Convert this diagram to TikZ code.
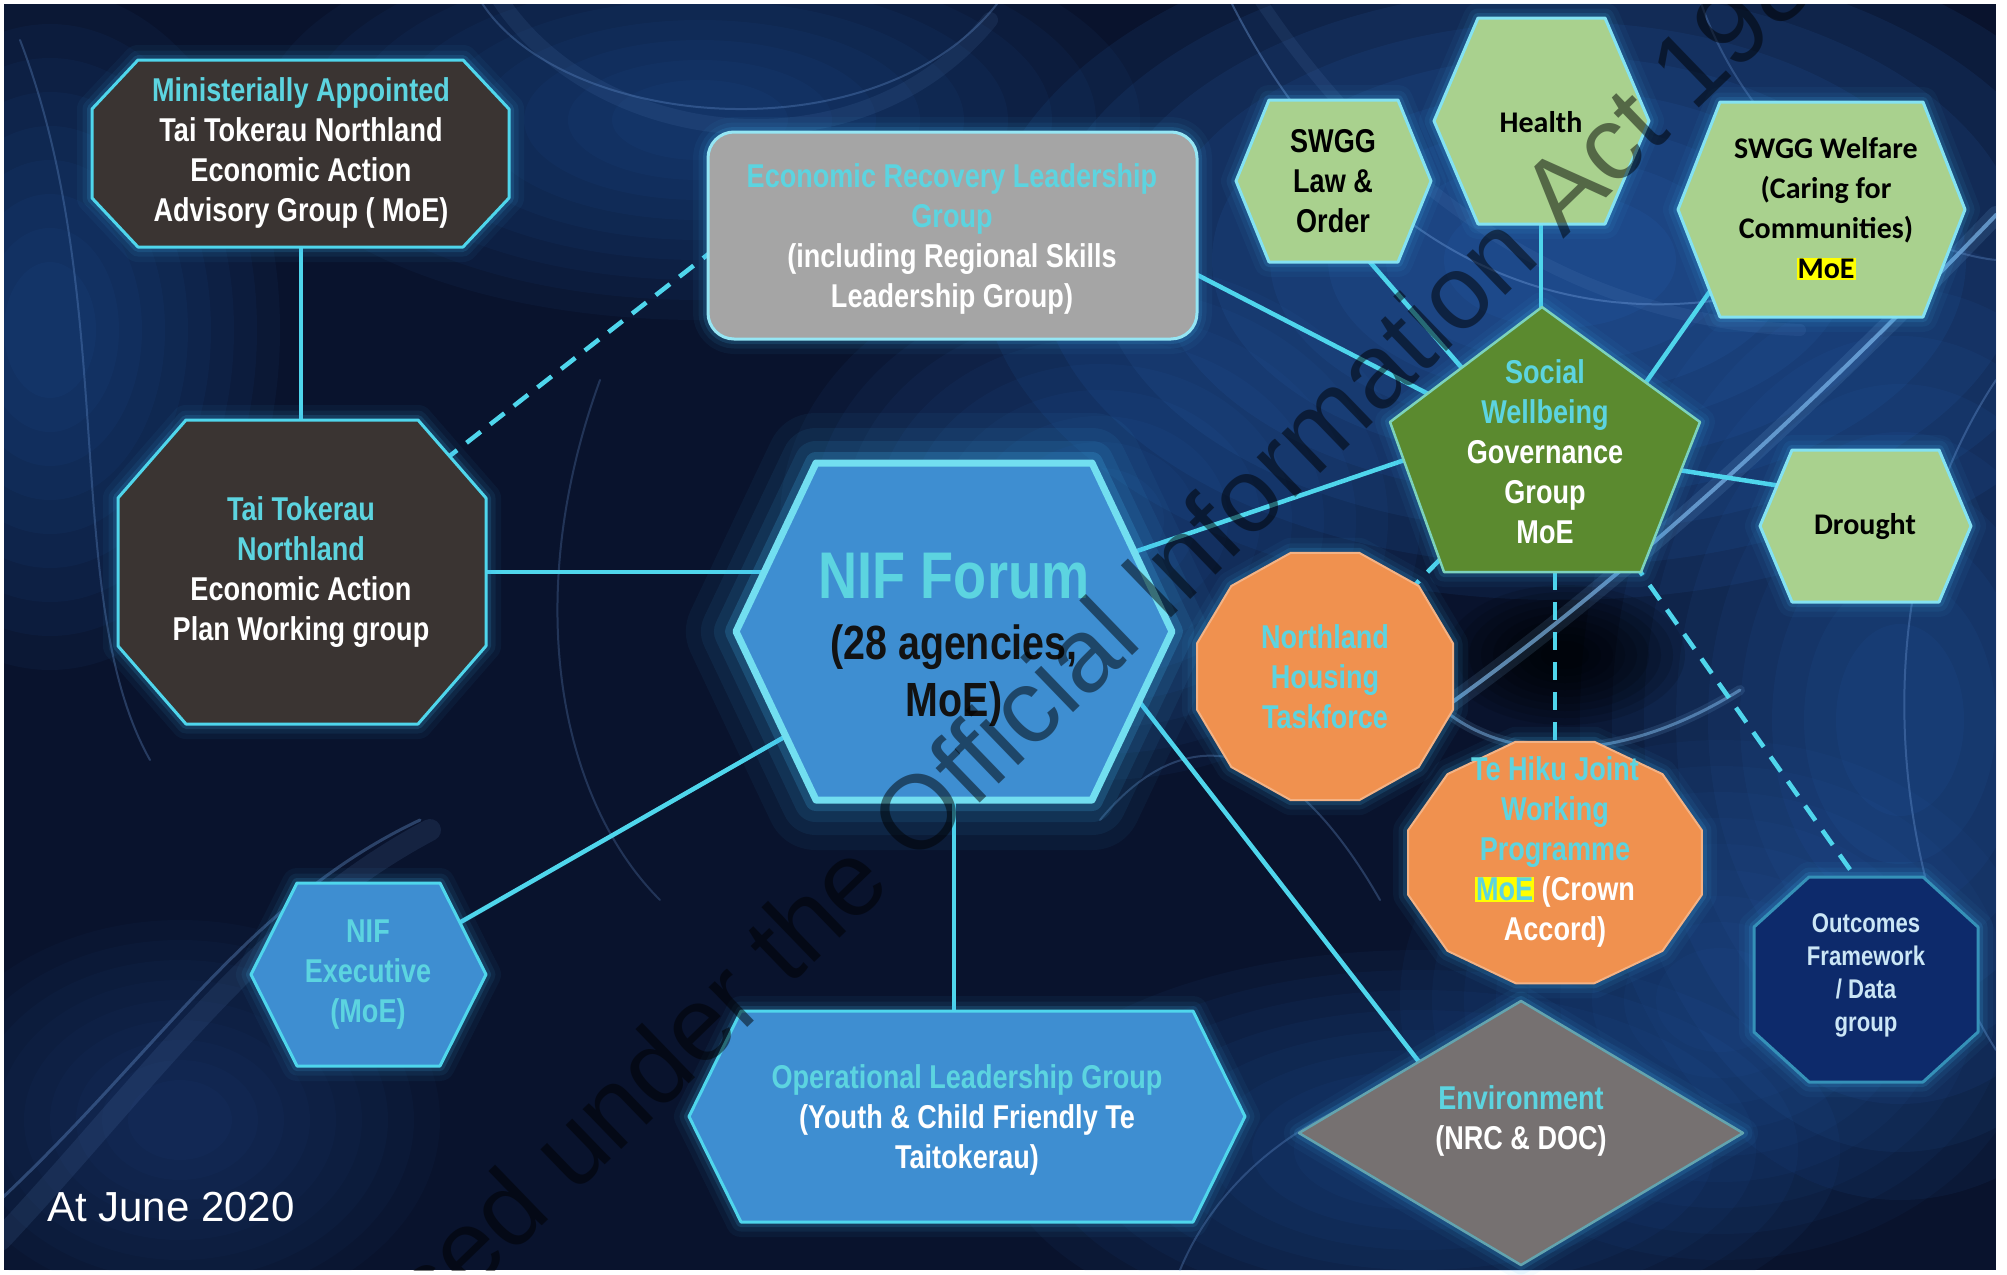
\documentclass[tikz,border=0pt]{standalone}
\usepackage{fontspec}
\setmainfont{Liberation Sans}
\newfontfamily\cond{Liberation Sans}[FakeStretch=0.82]
\newfontfamily\calib{Carlito}
\usetikzlibrary{calc}
\definecolor{bgbase}{HTML}{09132D}
\definecolor{cyanline}{HTML}{4FD6EC}
\definecolor{glowc}{HTML}{3FB6F2}
\definecolor{cyantext}{HTML}{5CD4E0}
\definecolor{darkbox}{HTML}{3A3432}
\definecolor{greybox}{HTML}{A5A5A5}
\definecolor{bluebox}{HTML}{3E8ED1}
\definecolor{greenbox}{HTML}{5B8A2F}
\definecolor{lgreen}{HTML}{A9D18E}
\definecolor{orangebox}{HTML}{F0914F}
\definecolor{envbox}{HTML}{767171}
\definecolor{navybox}{HTML}{0D2A6B}
\definecolor{hly}{HTML}{FFFF00}
\definecolor{outtext}{HTML}{CBE6F6}
\definecolor{smokeblue}{HTML}{2F6FC8}
\definecolor{smokelight}{HTML}{8CCBFF}
\pgfdeclarelayer{back}\pgfdeclarelayer{lines}\pgfsetlayers{back,lines,main}
\newcommand\hl[1]{{\setlength{\fboxsep}{1pt}\colorbox{hly}{#1}}}
\newcommand\cy[1]{\textcolor{cyantext}{#1}}
\newcommand\blob[6]{\foreach \bs in {1,0.9,0.8,0.7,0.6,0.5,0.4,0.3,0.2}{\fill[#5, opacity=#6] (#1,#2) ellipse ({#3*\bs} and {#4*\bs});}}
\newcommand\glowbox[2]{%
  \path[draw=glowc, line join=round, line width=30pt, opacity=0.05, #1];
  \path[draw=glowc, line join=round, line width=19pt, opacity=0.08, #1];
  \path[draw=glowc, line join=round, line width=10pt, opacity=0.15, #1];
  \path[line join=round, #2, #1];}
\newcommand\bigglow[2]{%
  \path[draw=glowc, line join=round, line width=100pt, opacity=0.05, #1];
  \path[draw=glowc, line join=round, line width=70pt, opacity=0.07, #1];
  \path[draw=glowc, line join=round, line width=44pt, opacity=0.10, #1];
  \path[draw=glowc, line join=round, line width=22pt, opacity=0.2, #1];
  \path[line join=round, #2, #1];}
\tikzset{
  hexp/.style n args={5}{insert path={({#1-#3},{#2}) -- ({#1-#3+#5},{#2-#4}) -- ({#1+#3-#5},{#2-#4}) -- ({#1+#3},{#2}) -- ({#1+#3-#5},{#2+#4}) -- ({#1-#3+#5},{#2+#4}) -- cycle}},
  octp/.style n args={6}{insert path={({#1-#3+#5},{#2-#4}) -- ({#1+#3-#5},{#2-#4}) -- ({#1+#3},{#2-#4+#6}) -- ({#1+#3},{#2+#4-#6}) -- ({#1+#3-#5},{#2+#4}) -- ({#1-#3+#5},{#2+#4}) -- ({#1-#3},{#2+#4-#6}) -- ({#1-#3},{#2-#4+#6}) -- cycle}},
  dodp/.style n args={4}{insert path={plot[samples at={15,45,...,345}, variable=\t] ({#1+#3*cos(\t)},{#2+#4*sin(\t)}) -- cycle}},
  pentp/.style={insert path={(1542,307) -- (1700,422) -- (1641,572) -- (1444,572) -- (1390,422) -- cycle}},
  diamp/.style={insert path={(1299,1133) -- (1521,1001) -- (1743,1133) -- (1521,1265) -- cycle}},
  darkst/.style={fill=darkbox, draw=cyanline, line width=3pt},
  greyst/.style={fill=greybox, draw=cyanline!60!white, line width=3pt},
  bluest/.style={fill=bluebox, draw=cyanline, line width=3pt},
  nifst/.style={fill=bluebox, draw=cyanline!80!white, line width=7pt},
  lgst/.style={fill=lgreen, draw=cyanline!70!white, line width=3pt},
  pentst/.style={fill=greenbox, draw=cyanline!50!lgreen, line width=2.5pt},
  orst/.style={fill=orangebox, draw=orangebox!70!white, line width=2pt},
  envst/.style={fill=envbox, draw=cyanline!50!envbox, line width=2.5pt},
  navst/.style={fill=navybox, draw=cyanline!60!navybox, line width=3pt},
  txt/.style={align=center, inner sep=0pt, text=white, font=\cond\bfseries\fontsize{33}{40}\selectfont},
  ctxt/.style={align=center, inner sep=0pt, text=black, font=\calib\bfseries\fontsize{30}{40}\selectfont},
  conn/.style={draw=cyanline, line width=4.5pt},
  dconn/.style={draw=cyanline, line width=4.5pt, dash pattern=on 18pt off 12pt},
}
\begin{document}
\begin{tikzpicture}[x=1pt, y=-1pt]
\useasboundingbox (0,0) rectangle (2007,1274);
\begin{pgfonlayer}{back}
\fill[white] (0,0) rectangle (2007,1274);
\fill[bgbase] (4,4) rectangle (1996,1270);
\begin{scope}
\clip (4,4) rectangle (1996,1270);
\blob{1560}{260}{580}{340}{smokeblue}{0.1}
\blob{1900}{720}{320}{480}{smokeblue}{0.07}
\blob{700}{120}{440}{200}{smokeblue}{0.055}
\blob{50}{330}{230}{340}{smokeblue}{0.055}
\blob{1100}{520}{320}{260}{smokeblue}{0.06}
\blob{1420}{1150}{420}{200}{smokeblue}{0.055}
\blob{1720}{1000}{320}{260}{smokeblue}{0.05}
\blob{180}{1120}{260}{200}{smokeblue}{0.035}
\blob{1565}{655}{120}{70}{black}{0.12}
\begin{scope}[line cap=round]
\draw[smokelight, line width=18pt, opacity=0.12] (1420,725) .. controls (1600,600) and (1800,420) .. (1996,215);
\draw[smokelight, line width=4pt, opacity=0.6] (1420,725) .. controls (1600,600) and (1800,420) .. (1996,215);
\draw[smokelight, line width=3pt, opacity=0.45] (1385,610) .. controls (1420,760) and (1580,790) .. (1740,690);
\draw[smokelight, line width=10pt, opacity=0.12] (1385,610) .. controls (1420,760) and (1580,790) .. (1740,690);
\draw[smokeblue!70!white, line width=2pt, opacity=0.4] (1230,0) .. controls (1330,200) and (1500,330) .. (1720,300);
\draw[smokeblue!70!white, line width=2pt, opacity=0.35] (1996,380) .. controls (1850,600) and (1900,900) .. (1996,1050);
\draw[smokeblue!70!white, line width=22pt, opacity=0.12] (0,1240) .. controls (150,1080) and (260,920) .. (430,830);
\draw[smokeblue!70!white, line width=3pt, opacity=0.35] (0,1200) .. controls (160,1050) and (250,900) .. (420,820);
\draw[smokeblue!70!white, line width=2pt, opacity=0.3] (480,0) .. controls (560,130) and (880,160) .. (1000,0);
\draw[smokeblue!70!white, line width=16pt, opacity=0.1] (500,0) .. controls (600,150) and (860,180) .. (990,20);
\draw[smokeblue!70!white, line width=2pt, opacity=0.3] (20,40) .. controls (120,300) and (60,600) .. (150,760);
\draw[smokeblue!70!white, line width=2pt, opacity=0.3] (1180,1270) .. controls (1250,1100) and (1500,1000) .. (1700,1150);
\draw[smokeblue!70!white, line width=2pt, opacity=0.3] (1100,820) .. controls (1200,700) and (1300,760) .. (1380,900);
\draw[smokeblue!70!white, line width=2pt, opacity=0.25] (600,380) .. controls (520,600) and (560,800) .. (660,900);
\draw[smokeblue!70!white, line width=2pt, opacity=0.3] (1700,0) .. controls (1750,150) and (1900,250) .. (1996,260);
\draw[smokeblue!70!white, line width=12pt, opacity=0.1] (1260,0) .. controls (1380,180) and (1560,320) .. (1800,330);
\end{scope}
\end{scope}
\end{pgfonlayer}
% shapes
\glowbox{octp={300.5}{153.5}{208.5}{93.5}{46}{49}}{darkst}
\glowbox{rounded corners=26pt, insert path={(708,132) rectangle (1197,339)}}{greyst}
\glowbox{octp={302}{572}{184}{152}{68}{78}}{darkst}
\bigglow{hexp={954}{631.5}{218}{168.5}{80}}{nifst}
\glowbox{hexp={368.5}{974.5}{117.5}{91.5}{46}}{bluest}
\glowbox{hexp={967}{1116.5}{278}{105.5}{52}}{bluest}
\glowbox{diamp}{envst}
\glowbox{hexp={1333.5}{181}{97.5}{81}{33}}{lgst}
\glowbox{hexp={1541.5}{121}{107.5}{103}{44}}{lgst}
\glowbox{hexp={1821.5}{209.5}{143.5}{107.5}{42}}{lgst}
\glowbox{hexp={1865.5}{526}{105.5}{76}{32}}{lgst}
\glowbox{pentp}{pentst}
\glowbox{dodp={1325}{676.5}{132.5}{128}}{orst}
\glowbox{dodp={1555}{862.5}{152}{125}}{orst}
\glowbox{octp={1866}{979.5}{112}{102.5}{55}{50}}{navst}
% texts
\node[txt] (minappt) at (301,153) {\cy{Ministerially Appointed}\\Tai Tokerau Northland\\Economic Action\\Advisory Group ( MoE)};
\node[txt] (erlg) at (952,239) {\cy{Economic Recovery Leadership}\\\cy{Group}\\(including Regional Skills\\Leadership Group)};
\node[txt] (tai) at (301,572) {\cy{Tai Tokerau}\\\cy{Northland}\\Economic Action\\Plan Working group};
\node[align=center, inner sep=0pt, text=black!93, font=\cond\bfseries\fontsize{48}{57}\selectfont] (nif) at (954,640) {{\fontsize{66}{70}\selectfont\cy{NIF Forum}}\\[4pt](28 agencies,\\MoE)};
\node[txt, text=cyantext] (nifexec) at (368,975) {NIF\\Executive\\(MoE)};
\node[txt] (olg) at (967,1120) {\cy{Operational Leadership Group}\\(Youth \& Child Friendly Te\\Taitokerau)};
\node[txt] (env) at (1521,1121) {\cy{Environment}\\(NRC \& DOC)};
\node[txt] (swgg) at (1545,452) {\cy{Social}\\\cy{Wellbeing}\\Governance\\Group\\MoE};
\node[txt, text=black] (lawo) at (1333,181) {SWGG\\Law \&\\Order};
\node[ctxt] (health) at (1541,122) {Health};
\node[ctxt] (welfare) at (1826,209) {SWGG Welfare\\(Caring for\\Communities)\\\hl{MoE}};
\node[ctxt] (drought) at (1865,527) {Drought};
\node[txt] (nht) at (1325,677) {\cy{Northland}\\\cy{Housing}\\\cy{Taskforce}};
\node[txt] (tehiku) at (1555,852) {\cy{Te Hiku Joint}\\\cy{Working}\\\cy{Programme}\\\hl{\cy{MoE}} (Crown\\Accord)};
\node[txt, text=outtext, font=\cond\bfseries\fontsize{27}{33}\selectfont] (outc) at (1866,975) {Outcomes\\Framework\\/ Data\\group};
\node[anchor=base west, inner sep=0pt, text=white, font=\fontsize{42}{48}\selectfont] (date) at (47,1221) {At June 2020};
% connectors
\begin{pgfonlayer}{lines}
\coordinate (erlgW) at (720,245);
\coordinate (nifSE) at (1100,651);
\coordinate (envNW) at (1430,1076);
\coordinate (nifNE) at (1090,567);
\coordinate (swggW) at (1440,448);
\coordinate (erlgE) at (1180,266);
\coordinate (swggNW) at (1440,400);
\coordinate (lawoS) at (1350,239);
\coordinate (swggN) at (1475,383);
\coordinate (welfSW) at (1720,277);
\coordinate (swggNE) at (1630,405);
\coordinate (swggE) at (1640,464);
\coordinate (drouW) at (1800,489);
\coordinate (swggSE) at (1615,536);
\coordinate (outcNW) at (1875,905);
\draw[conn] (minappt.center) -- (tai.center);
\draw[conn] (tai.center) -- (tai.center -| nif.center);
\draw[dconn] (tai.center) -- (erlgW);
\draw[conn] (nif.center) -- (nifexec.center);
\draw[conn] (nif.center) -- (nif.center |- olg.center);
\draw[conn] (nifSE) -- (envNW);
\draw[conn] (nifNE) -- (swggW);
\draw[conn] (erlgE) -- (swggNW);
\draw[conn] (lawoS) -- (swggN);
\draw[conn] (health.center) -- (health.center |- swgg.center);
\draw[conn] (welfSW) -- (swggNE);
\draw[conn] (swggE) -- (drouW);
\draw[dconn] (swgg.center) -- (nht.center);
\draw[dconn] (tehiku.center |- swgg.center) -- (tehiku.center);
\draw[dconn] (swggSE) -- (outcNW);
\end{pgfonlayer}
% watermark
\begin{scope}
\clip (4,4) rectangle (1996,1270);
\node[rotate=44, text=black, opacity=0.5, font=\fontsize{105}{105}\selectfont] (wm) at (1022,710) {Released under the Official Information Act 1982};
\end{scope}
\end{tikzpicture}
\end{document}
